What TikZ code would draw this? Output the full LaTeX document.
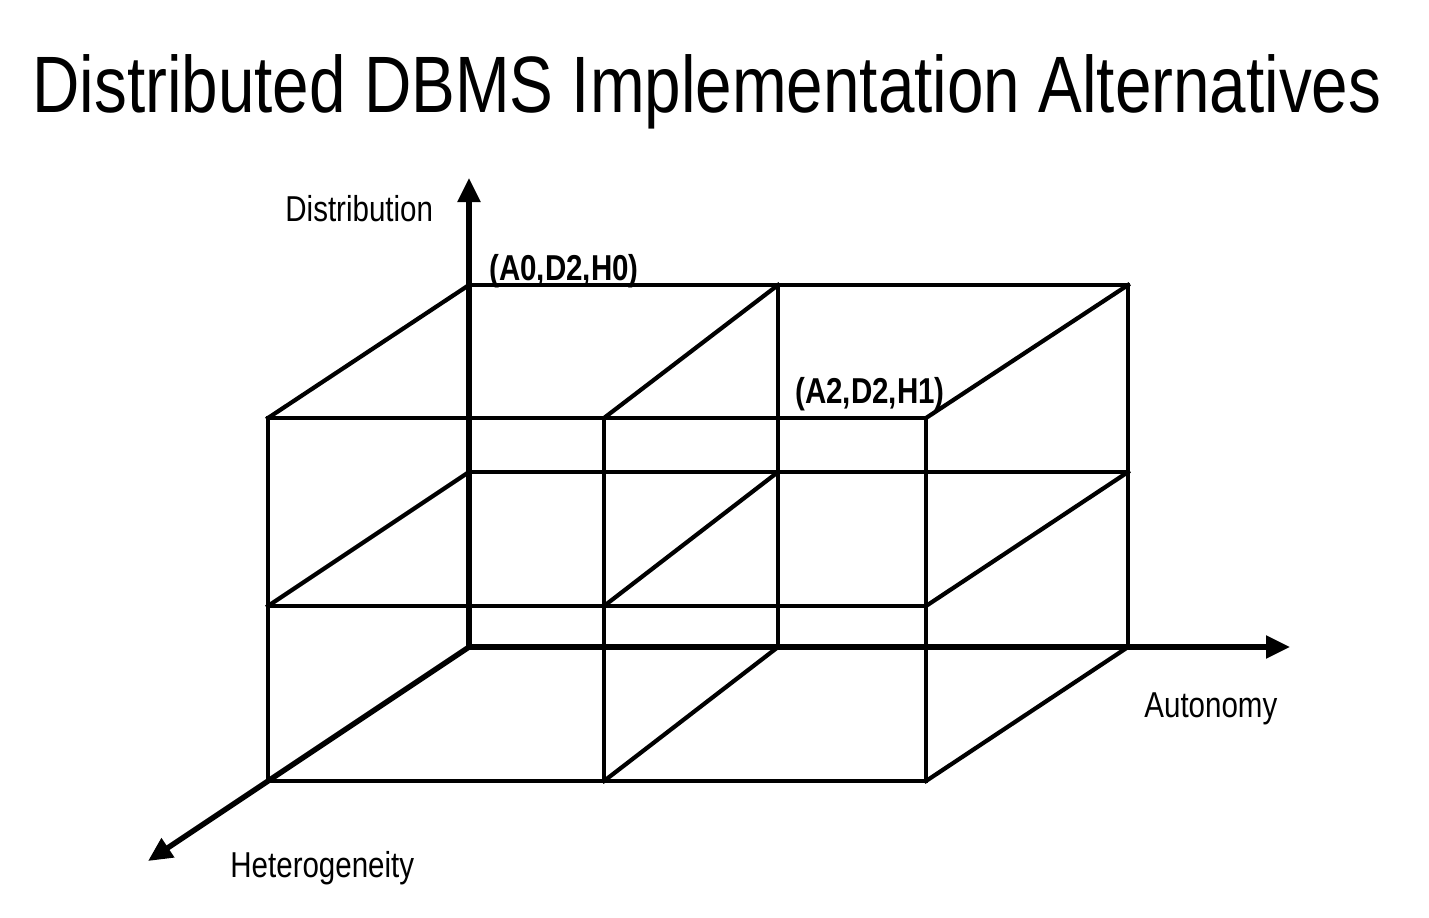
\documentclass[tikz,border=0pt]{standalone}
\usepackage{fontspec}
\setmainfont{Liberation Sans}
\newfontfamily\titlefont[FakeStretch=0.82]{Liberation Sans}
\newfontfamily\labelfont[FakeStretch=0.82]{Liberation Sans}
\usetikzlibrary{arrows.meta}
\begin{document}
\begin{tikzpicture}[x=0.5pt,y=-0.5pt,
  gridline/.style={line width=2.1pt,line cap=rect},
  axis/.style={line width=2.7pt,-{Triangle[length=12pt,width=11pt]}},
  lbl/.style={font=\labelfont\fontsize{18}{20}\selectfont, anchor=base west, inner sep=0pt},
  coordlbl/.style={font=\labelfont\bfseries\fontsize{18}{20}\selectfont, anchor=base west, inner sep=0pt},
  titlestyle/.style={font=\titlefont\fontsize{40}{44}\selectfont, anchor=base west, inner sep=0pt}]
\useasboundingbox (0,0) rectangle (1429,917);
% back face
\coordinate (b00) at (469,285); \coordinate (b01) at (778,285); \coordinate (b02) at (1128,285);
\coordinate (b10) at (469,472); \coordinate (b11) at (778,472); \coordinate (b12) at (1128,472);
\coordinate (b20) at (469,647); \coordinate (b21) at (778,647); \coordinate (b22) at (1128,647);
% front face
\coordinate (f00) at (268,418); \coordinate (f01) at (604,418); \coordinate (f02) at (926,418);
\coordinate (f10) at (268,606); \coordinate (f11) at (604,606); \coordinate (f12) at (926,606);
\coordinate (f20) at (268,781); \coordinate (f21) at (604,781); \coordinate (f22) at (926,781);
% axis ends
\coordinate (yend) at (469,178);
\coordinate (xend) at (1290,647);
\coordinate (zend) at (148,861);
% grid
\draw[gridline] (b00) -- (b02); \draw[gridline] (b10) -- (b12);
\draw[gridline] (b01) -- (b21); \draw[gridline] (b02) -- (b22);
\draw[gridline] (f00) -- (f02); \draw[gridline] (f10) -- (f12); \draw[gridline] (f20) -- (f22);
\draw[gridline] (f00) -- (f20); \draw[gridline] (f01) -- (f21); \draw[gridline] (f02) -- (f22);
\draw[gridline] (b00) -- (f00); \draw[gridline] (b01) -- (f01); \draw[gridline] (b02) -- (f02);
\draw[gridline] (b10) -- (f10); \draw[gridline] (b11) -- (f11); \draw[gridline] (b12) -- (f12);
\draw[gridline] (b21) -- (f21); \draw[gridline] (b22) -- (f22);
% axes
\draw[axis] (b20) -- (yend);
\draw[axis] (b20) -- (xend);
\draw[axis] (b20) -- (zend);
% texts
\node[titlestyle] (title) at (32,112) {Distributed DBMS Implementation Alternatives};
\node[lbl] (dist) at (285,221) {Distribution};
\node[lbl] (auton) at (1144,717) {Autonomy};
\node[lbl] (hetero) at (230,877) {Heterogeneity};
\node[coordlbl] (a0) at (489,280) {(A0,D2,H0)};
\node[coordlbl] (a2) at (795,403) {(A2,D2,H1)};
\end{tikzpicture}
\end{document}
